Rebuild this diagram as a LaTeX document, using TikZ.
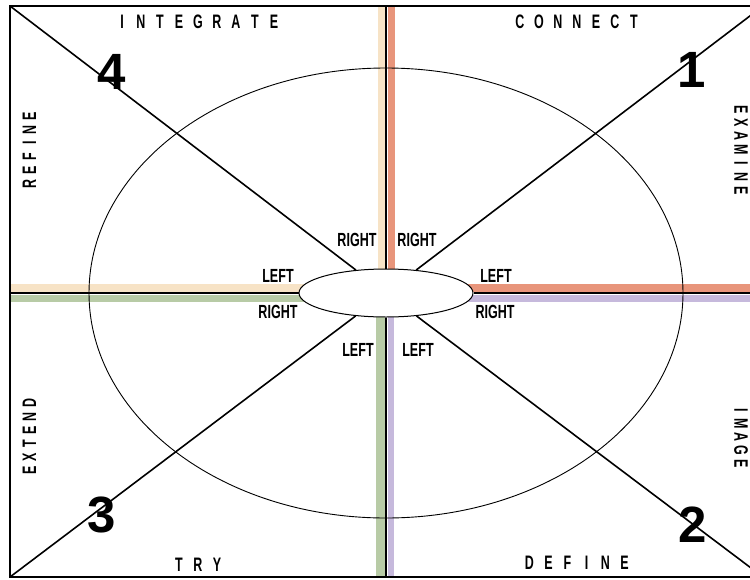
\documentclass[tikz,border=0pt]{standalone}
\usepackage{fontspec}
\usepackage{graphicx}
\setmainfont{Liberation Sans}
\usetikzlibrary{shapes.geometric}
\definecolor{tanband}{HTML}{F7E3C6}
\definecolor{salmonband}{HTML}{E8957B}
\definecolor{greenband}{HTML}{B8CBA6}
\definecolor{purpleband}{HTML}{C6B9DC}
\newlength\lblpitch
\makeatletter
\def\sp@ced#1{\ifx#1\relax\else\makebox[\lblpitch]{\scalebox{0.64}[1]{#1}}\expandafter\sp@ced\fi}
\newcommand\spacedword[2]{\setlength\lblpitch{#1}\sp@ced#2\relax}
\makeatother
\newcommand\narrowtxt[1]{\scalebox{0.66}[1]{#1}}
\begin{document}
\begin{tikzpicture}[x=1pt,y=-1pt,
  frame/.style={line width=1.8pt},
  diag/.style={line width=1.6pt},
  axis/.style={line width=1.4pt},
  ring/.style={line width=0.9pt},
  word/.style={inner sep=0pt, font=\fontsize{19.5}{19.5}\selectfont\bfseries},
  num/.style={inner sep=0pt, font=\fontsize{51}{51}\selectfont\bfseries},
  lr/.style={inner sep=0pt, font=\fontsize{19}{19}\selectfont\bfseries},
  hubstyle/.style={ellipse, draw, line width=1pt, fill=white, inner sep=0pt,
                   minimum width=174pt, minimum height=48pt}
]
\useasboundingbox (0,0) rectangle (750,579);
\clip (0,0) rectangle (750,579);
% key coordinates
\coordinate (C) at (386,293);
\coordinate (TL) at (10,6);
\coordinate (TR) at (763,6);
\coordinate (BL) at (10,577);
\coordinate (BR) at (763,577);
\coordinate (T) at (386,6);
\coordinate (B) at (386,577);
\coordinate (L) at (10,293);
\coordinate (R) at (763,293);
% coloured bands
\fill[tanband]    (378,6) rectangle (384.5,293);
\fill[salmonband] (387.5,6) rectangle (395,293);
\fill[greenband]  (376,293) rectangle (384.5,577);
\fill[purpleband] (387.5,293) rectangle (394,577);
\fill[tanband]    (10,284) rectangle (386,291.5);
\fill[greenband]  (10,294.5) rectangle (386,302);
\fill[salmonband] (386,284) rectangle (763,291.5);
\fill[purpleband] (386,294.5) rectangle (763,302);
% big ellipse
\draw[ring] (C) ellipse [x radius=297, y radius=225];
% hub
\node[hubstyle] (hub) at (C) {};
% axes
\draw[axis] (T) -- (hub);
\draw[axis] (B) -- (hub);
\draw[axis] (L) -- (hub);
\draw[axis] (R) -- (hub);
% diagonals
\draw[diag] (TL) -- (hub);
\draw[diag] (TR) -- (hub);
\draw[diag] (BL) -- (hub);
\draw[diag] (BR) -- (hub);
% frame
\draw[frame] (TL) rectangle (BR);
% words
\node[word] (integrate) at (198,22) {\spacedword{19pt}{INTEGRATE}};
\node[word] (connect) at (577,22) {\spacedword{19pt}{CONNECT}};
\node[word] (try) at (198,565) {\spacedword{19pt}{TRY}};
\node[word] (define) at (577,563) {\spacedword{19pt}{DEFINE}};
\node[word, rotate=90] (refine) at (29.5,150) {\spacedword{13.5pt}{REFINE}};
\node[word, rotate=90] (extend) at (29.5,437) {\spacedword{13.5pt}{EXTEND}};
\node[word, rotate=-90] (examine) at (741,150) {\spacedword{13.5pt}{EXAMINE}};
\node[word, rotate=-90] (image) at (741,437) {\spacedword{13.5pt}{IMAGE}};
% numbers
\node[num] (n4) at (112,72) {4};
\node[num] (n1) at (692,70) {1};
\node[num] (n3) at (102,515) {3};
\node[num] (n2) at (693,525) {2};
% left / right labels
\node[lr] (rul) at (357,240) {\narrowtxt{RIGHT}};
\node[lr] (rur) at (417,240) {\narrowtxt{RIGHT}};
\node[lr] (lml) at (278,276) {\narrowtxt{LEFT}};
\node[lr] (lmr) at (496,276) {\narrowtxt{LEFT}};
\node[lr] (rml) at (278,312) {\narrowtxt{RIGHT}};
\node[lr] (rmr) at (495,312) {\narrowtxt{RIGHT}};
\node[lr] (lll) at (358,350) {\narrowtxt{LEFT}};
\node[lr] (llr) at (418,350) {\narrowtxt{LEFT}};
\end{tikzpicture}
\end{document}
